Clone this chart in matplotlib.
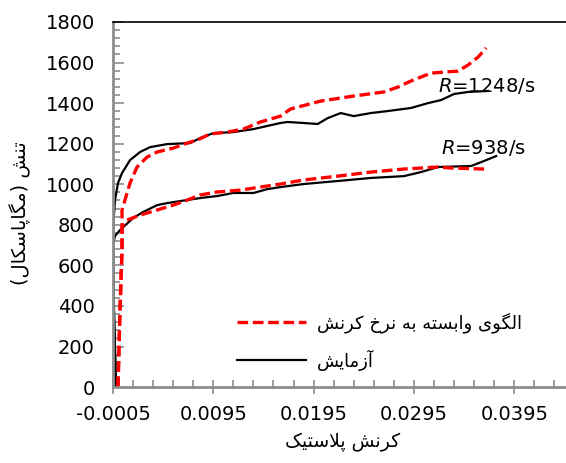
import matplotlib
matplotlib.use("Agg")
import matplotlib.pyplot as plt
from matplotlib.ticker import FixedLocator, MultipleLocator

plt.rcParams["font.family"] = "DejaVu Sans"
plt.rcParams["axes.unicode_minus"] = False

# ── data ──────────────────────────────────────────────────────────────────
# experiment, R = 938/s
exp_938_x = [-0.0002, -0.0004, -0.0005, -0.0003, 0.0002, 0.0015, 0.0025, 0.0039,
             0.0049, 0.0062, 0.0082, 0.0099, 0.0115, 0.0135, 0.0149, 0.0162,
             0.0185, 0.0219, 0.0252, 0.0285, 0.0302, 0.0319, 0.0352, 0.0362, 0.0377]
exp_938_y = [0, 350, 700, 745, 774, 833, 863, 897,
             907, 917, 932, 942, 957, 957, 976, 986,
             1001, 1016, 1031, 1040, 1060, 1085, 1090, 1109, 1139]

# model, R = 938/s
mod_938_x = [0.0000, 0.0002, 0.0004, 0.0004, 0.0009, 0.0022, 0.0039, 0.0055,
             0.0069, 0.0082, 0.0099, 0.0122, 0.0135, 0.0162, 0.0185, 0.0219,
             0.0252, 0.0285, 0.0319, 0.0332, 0.0365]
mod_938_y = [0, 380, 676, 789, 823, 848, 873, 897,
             922, 947, 962, 971, 981, 1001, 1021, 1040,
             1060, 1075, 1085, 1080, 1075]

# experiment, R = 1248/s
exp_1248_x = [-0.0002, -0.0004, -0.0005, -0.0003, 0.0000, 0.0004, 0.0012, 0.0022,
              0.0032, 0.0049, 0.0072, 0.0082, 0.0095, 0.0115, 0.0135, 0.0162,
              0.0169, 0.0185, 0.0199, 0.0209, 0.0222, 0.0235, 0.0252, 0.0269,
              0.0292, 0.0309, 0.0322, 0.0335, 0.0349, 0.0369]
exp_1248_y = [0, 400, 774, 922, 1006, 1055, 1119, 1159,
              1183, 1198, 1203, 1228, 1252, 1257, 1272, 1302,
              1307, 1302, 1297, 1326, 1351, 1336, 1351, 1361,
              1376, 1400, 1415, 1445, 1455, 1460]

# model, R = 1248/s
mod_1248_x = [0.0000, 0.0002, 0.0004, 0.0004, 0.0012, 0.0019, 0.0029, 0.0039,
              0.0055, 0.0069, 0.0079, 0.0092, 0.0109, 0.0125, 0.0142, 0.0162,
              0.0172, 0.0202, 0.0235, 0.0265, 0.0279, 0.0292, 0.0312, 0.0325,
              0.0339, 0.0349, 0.0359, 0.0367]
mod_1248_y = [0, 380, 676, 873, 1006, 1085, 1134, 1159,
              1178, 1203, 1218, 1248, 1257, 1272, 1307, 1336,
              1371, 1410, 1435, 1455, 1479, 1509, 1548, 1553,
              1558, 1588, 1627, 1672]

x_ticks = [-0.0005, 0.0095, 0.0195, 0.0295, 0.0395]
x_tick_labels = ["-0.0005", "0.0095", "0.0195", "0.0295", "0.0395"]
y_ticks = [0, 200, 400, 600, 800, 1000, 1200, 1400, 1600, 1800]

label_model = "الگوی وابسته به نرخ کرنش"
label_exp = "آزمایش"
x_title = "کرنش پلاستیک"
y_title = "تنش (مگاپاسکال)"

# ── minimal Persian shaping (no arabic_reshaper in the sandbox) ───────────
# letter -> (isolated, final, initial, medial); None = joins only to the right
FORMS = {
    "ا": ("\uFE8D", "\uFE8E", None, None),
    "آ": ("\uFE81", "\uFE82", None, None),
    "ب": ("\uFE8F", "\uFE90", "\uFE91", "\uFE92"),
    "پ": ("\uFB56", "\uFB57", "\uFB58", "\uFB59"),
    "ت": ("\uFE95", "\uFE96", "\uFE97", "\uFE98"),
    "خ": ("\uFEA5", "\uFEA6", "\uFEA7", "\uFEA8"),
    "ر": ("\uFEAD", "\uFEAE", None, None),
    "ز": ("\uFEAF", "\uFEB0", None, None),
    "س": ("\uFEB1", "\uFEB2", "\uFEB3", "\uFEB4"),
    "ش": ("\uFEB5", "\uFEB6", "\uFEB7", "\uFEB8"),
    "ک": ("\uFB8E", "\uFB8F", "\uFB90", "\uFB91"),
    "گ": ("\uFB92", "\uFB93", "\uFB94", "\uFB95"),
    "ل": ("\uFEDD", "\uFEDE", "\uFEDF", "\uFEE0"),
    "م": ("\uFEE1", "\uFEE2", "\uFEE3", "\uFEE4"),
    "ن": ("\uFEE5", "\uFEE6", "\uFEE7", "\uFEE8"),
    "ه": ("\uFEE9", "\uFEEA", "\uFEEB", "\uFEEC"),
    "و": ("\uFEED", "\uFEEE", None, None),
    "ی": ("\uFBFC", "\uFBFD", "\uFBFE", "\uFBFF"),
}
MIRROR = {"(": ")", ")": "("}


def fa(text: str) -> str:
    """Shape Persian letters and return them in visual (left-to-right) order."""
    out = []
    i = 0
    n = len(text)
    while i < n:
        ch = text[i]
        if ch not in FORMS:
            out.append(MIRROR.get(ch, ch))
            i += 1
            continue
        prev = text[i - 1] if i > 0 else ""
        joins_prev = prev in FORMS and FORMS[prev][2] is not None
        if ch == "ل" and i + 1 < n and text[i + 1] == "ا":  # lam-alef ligature
            out.append("\uFEFC" if joins_prev else "\uFEFB")
            i += 2
            continue
        nxt = text[i + 1] if i + 1 < n else ""
        joins_next = FORMS[ch][2] is not None and nxt in FORMS
        iso, fin, ini, med = FORMS[ch]
        if joins_prev and joins_next:
            out.append(med)
        elif joins_prev:
            out.append(fin)
        elif joins_next:
            out.append(ini)
        else:
            out.append(iso)
        i += 1
    return "".join(reversed(out))


# ── figure ────────────────────────────────────────────────────────────────
AXIS_GRAY = "#8c8c8c"
fig = plt.figure(figsize=(5.66, 4.63), dpi=100)
ax = fig.add_axes([0.1996, 0.164, 0.81, 0.7885])

ax.plot(exp_938_x, exp_938_y, color="black", lw=1.6)
ax.plot(exp_1248_x, exp_1248_y, color="black", lw=1.6, label=fa(label_exp))
ax.plot(mod_938_x, mod_938_y, color="#ff0000", lw=2.4, dashes=(3.2, 1.4))
ax.plot(mod_1248_x, mod_1248_y, color="#ff0000", lw=2.4, dashes=(3.2, 1.4),
        label=fa(label_model))

ax.set_xlim(-0.0005, 0.0452)
ax.set_ylim(0, 1800)

ax.xaxis.set_major_locator(FixedLocator(x_ticks))
ax.set_xticklabels(x_tick_labels)
ax.xaxis.set_minor_locator(MultipleLocator(0.002, offset=-0.0005))
ax.yaxis.set_major_locator(FixedLocator(y_ticks))
ax.yaxis.set_minor_locator(MultipleLocator(40))

ax.tick_params(axis="x", which="major", direction="inout", length=10, width=1.2,
               color=AXIS_GRAY, labelsize=14, pad=8)
ax.tick_params(axis="x", which="minor", direction="in", length=5, width=1.2,
               color=AXIS_GRAY)
ax.tick_params(axis="y", which="major", direction="in", length=8, width=1.2,
               color=AXIS_GRAY, labelsize=14, pad=13)
ax.tick_params(axis="y", which="minor", direction="in", length=5, width=1.2,
               color=AXIS_GRAY)

for side in ("left", "bottom"):
    ax.spines[side].set_color(AXIS_GRAY)
    ax.spines[side].set_linewidth(2)
ax.spines["right"].set_visible(False)
ax.spines["top"].set_color("black")
ax.spines["top"].set_linewidth(1.2)

ax.set_xlabel(fa(x_title), fontsize=13.5, labelpad=6)
ax.set_ylabel(fa(y_title), fontsize=14)
ax.yaxis.set_label_coords(-0.178, 0.477)

ax.text(0.0319, 1484, "$R$=1248/s", fontsize=14, va="center", ha="left")
ax.text(0.0322, 1178, "$R$=938/s", fontsize=14, va="center", ha="left")

handles, labels = ax.get_legend_handles_labels()
ax.legend(handles[::-1], labels[::-1], loc="upper left", frameon=False,
          bbox_to_anchor=(0.419, 0.325), bbox_transform=fig.transFigure,
          fontsize=13, handlelength=3.8, handletextpad=0.6, labelspacing=0.9,
          borderpad=0, borderaxespad=0)

fig.savefig("out.png", dpi=100)
